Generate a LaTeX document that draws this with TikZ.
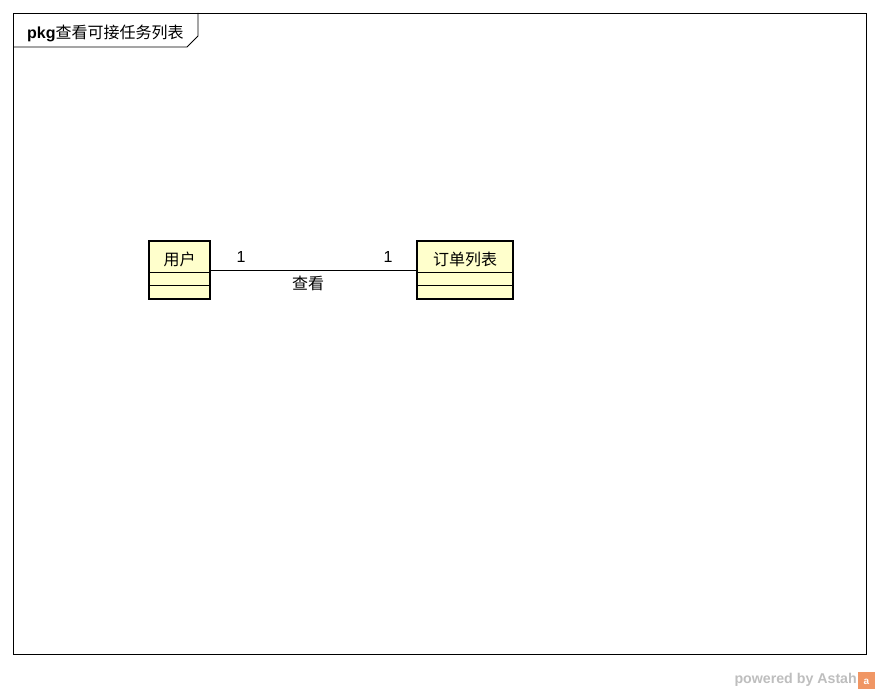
\documentclass[tikz,border=0pt]{standalone}
\usepackage{fontspec}
\setmainfont{Liberation Sans}
\newfontfamily\cjk{Noto Sans CJK SC}
\definecolor{clsfill}{RGB}{255,255,204}
\definecolor{wmgray}{RGB}{190,190,190}
\definecolor{wmorange}{RGB}{240,150,100}
\tikzset{
  clsbox/.style={draw=black, line width=2.6pt, fill=clsfill},
  lbl/.style={inner sep=0pt, font=\fontsize{16}{16}\selectfont},
}
\begin{document}
\begin{tikzpicture}[x=1pt,y=-1pt]
\useasboundingbox (0,0) rectangle (880,693);
\fill[white] (0,0) rectangle (880,693);
% frame
\draw[line width=0.8pt] (13,13) rectangle (866,654);
\draw[line width=0.8pt] (13,47) -- (187,47) -- (198,36) -- (198,13);
\node[lbl, anchor=west] (title) at (27,33) {\textbf{pkg}\cjk 查看可接任务列表};
% classes
\draw[clsbox] (149,241) rectangle (210,299);
\draw[line width=0.8pt] (149,272) -- (210,272);
\draw[line width=0.8pt] (149,285) -- (210,285);
\node[lbl] (user) at (179.5,259) {\cjk 用户};
\coordinate (userE) at (210,270);
\draw[clsbox] (417,241) rectangle (513,299);
\draw[line width=0.8pt] (417,272) -- (513,272);
\draw[line width=0.8pt] (417,285) -- (513,285);
\node[lbl] (order) at (465,259) {\cjk 订单列表};
\coordinate (orderW) at (417,270);
% association
\draw[line width=0.8pt] (userE) -- (orderW);
\node[lbl] (m1) at (241,257) {1};
\node[lbl] (m2) at (388,257) {1};
\node[lbl] (assoc) at (308,283) {\cjk 查看};
% watermark
\node[inner sep=0pt, anchor=east, text=wmgray, font=\bfseries\fontsize{14.2}{14.2}\selectfont] (wm) at (857,680) {powered by Astah};
\fill[wmorange] (858,672) rectangle (875,689);
\node[inner sep=0pt, text=white, font=\bfseries\fontsize{10}{10}\selectfont] (wmi) at (866.5,682) {a};
\end{tikzpicture}
\end{document}
